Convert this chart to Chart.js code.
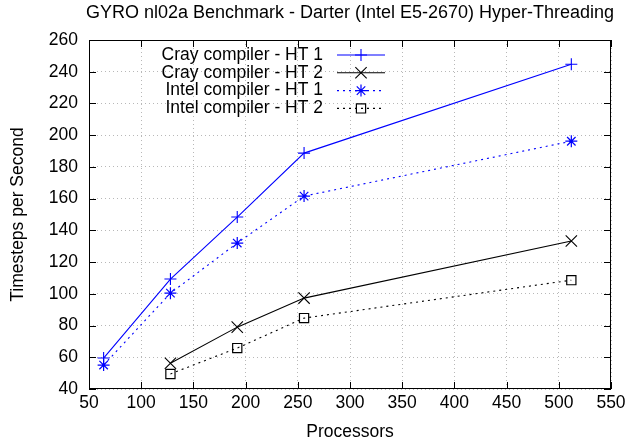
<!doctype html>
<html lang="en">
<head>
<meta charset="utf-8">
<title>GYRO nl02a Benchmark</title>
<script src="https://cdn.jsdelivr.net/npm/chart.js"></script>
<style>
    html, body { margin: 0; padding: 0; background: white; }
    #wrap { width: 630px; height: 446px; }
</style>
</head>
<body>
<div id="wrap"><canvas id="myChart"></canvas></div>
<script>
// data
const titleText = 'GYRO nl02a Benchmark - Darter (Intel E5-2670) Hyper-Threading';
const procsAll = [64, 128, 192, 256, 512];
const procsHT2 = [128, 192, 256, 512];
const crayHT1 = [59.5, 109.3, 148.4, 188.7, 244.7];
const crayHT2 = [56.2, 79, 97.3, 133.3];
const intelHT1 = [55.1, 100.4, 132, 161.6, 196.2];
const intelHT2 = [49.5, 65.8, 84.7, 108.6];
const xTicks = [50, 100, 150, 200, 250, 300, 350, 400, 450, 500, 550];
const yTicks = [40, 60, 80, 100, 120, 140, 160, 180, 200, 220, 240, 260];

const FONT = 'Liberation Sans, Arial, Helvetica, sans-serif';
const FSIZE = 17.5;
const BLUE = '#0000ff';

function pts(xs, ys) {
    return xs.map((x, i) => ({ x: x, y: ys[i] }));
}

const data = {
    datasets: [{
        label: 'Cray compiler - HT 1',
        data: pts(procsAll, crayHT1),
        borderColor: BLUE,
        borderWidth: 1.1,
        pointStyle: 'cross',
        pointRadius: 6,
        pointBorderWidth: 1.1,
        pointBorderColor: BLUE,
        pointBackgroundColor: 'transparent'
    }, {
        label: 'Cray compiler - HT 2',
        data: pts(procsHT2, crayHT2),
        borderColor: 'black',
        borderWidth: 1.1,
        pointStyle: 'crossRot',
        pointRadius: 8,
        pointBorderWidth: 1.1,
        pointBorderColor: 'black',
        pointBackgroundColor: 'transparent'
    }, {
        label: 'Intel compiler - HT 1',
        data: pts(procsAll, intelHT1),
        borderColor: BLUE,
        borderWidth: 1.1,
        borderDash: [2, 4],
        pointStyle: 'star',
        pointRadius: 6,
        pointBorderWidth: 1.2,
        pointBorderColor: BLUE,
        pointBackgroundColor: 'transparent'
    }, {
        label: 'Intel compiler - HT 2',
        data: pts(procsHT2, intelHT2),
        borderColor: 'black',
        borderWidth: 1.1,
        borderDash: [2, 4],
        pointStyle: 'rect',
        pointRadius: 6.5,
        pointBorderWidth: 1.2,
        pointBorderColor: 'black',
        pointBackgroundColor: 'transparent'
    }]
};

// gnuplot look: frame, inward ticks, title, legend in the plot
const gnuplotBits = {
    id: 'gnuplotBits',
    afterDraw: (chart) => {
        const ctx = chart.ctx;
        const a = chart.chartArea;
        const xs = chart.scales.x, ys = chart.scales.y;
        ctx.save();
        ctx.strokeStyle = 'black';
        ctx.lineWidth = 1;
        ctx.setLineDash([]);
        ctx.strokeRect(a.left + 0.5, a.top + 0.5, a.right - a.left - 1, a.bottom - a.top - 1);
        ctx.beginPath();
        xTicks.forEach(v => {
            const px = Math.round(xs.getPixelForValue(v)) + 0.5;
            ctx.moveTo(px, a.bottom); ctx.lineTo(px, a.bottom - 7);
            ctx.moveTo(px, a.top); ctx.lineTo(px, a.top + 7);
        });
        yTicks.forEach(v => {
            const py = Math.round(ys.getPixelForValue(v)) + 0.5;
            ctx.moveTo(a.left, py); ctx.lineTo(a.left + 7, py);
            ctx.moveTo(a.right, py); ctx.lineTo(a.right - 7, py);
        });
        ctx.stroke();

        // title
        ctx.fillStyle = 'black';
        ctx.font = '18px ' + FONT;
        ctx.textAlign = 'center';
        ctx.textBaseline = 'middle';
        ctx.fillText(titleText, (a.left + a.right) / 2, 13);

        // legend
        ctx.font = FSIZE + 'px ' + FONT;
        const textRight = 323, lineL = 337, lineR = 385, row0 = 55, rowH = 17.8;
        chart.data.datasets.forEach((ds, i) => {
            const y = row0 + i * rowH;
            ctx.textAlign = 'right';
            ctx.fillStyle = 'black';
            ctx.fillText(ds.label, textRight, y);
            ctx.strokeStyle = ds.borderColor;
            ctx.lineWidth = ds.borderWidth;
            ctx.setLineDash(ds.borderDash || []);
            ctx.beginPath();
            ctx.moveTo(lineL, y); ctx.lineTo(lineR, y);
            ctx.stroke();
            ctx.setLineDash([]);
            ctx.fillStyle = 'rgba(0,0,0,0)';
            ctx.lineWidth = ds.pointBorderWidth;
            Chart.helpers.drawPoint(ctx, {
                pointStyle: ds.pointStyle,
                radius: ds.pointRadius,
                borderWidth: ds.pointBorderWidth,
                rotation: 0
            }, (lineL + lineR) / 2, y);
        });
        ctx.restore();
    }
};

const tickFont = { family: FONT, size: FSIZE };

const config = {
    type: 'line',
    data: data,
    options: {
        responsive: false,
        animation: false,
        layout: { padding: { top: 40, right: 19, left: 0, bottom: 0 } },
        plugins: {
            legend: { display: false },
            title: { display: false },
            tooltip: { enabled: false }
        },
        scales: {
            x: {
                type: 'linear',
                min: 50, max: 550,
                afterBuildTicks: s => { s.ticks = xTicks.map(v => ({ value: v })); },
                afterFit: s => { s.height = 57; },
                ticks: { color: 'black', font: tickFont, padding: 4, maxRotation: 0 },
                grid: { color: '#b8b8b8', lineWidth: 1, drawTicks: false },
                border: { display: false, dash: [1, 3] },
                title: { display: true, text: 'Processors', color: 'black', font: tickFont, padding: { top: 0, bottom: 3 } }
            },
            y: {
                type: 'linear',
                min: 40, max: 260,
                afterBuildTicks: s => { s.ticks = yTicks.map(v => ({ value: v })); },
                afterFit: s => { s.width = 89; },
                ticks: { color: 'black', font: tickFont, padding: 11 },
                grid: { color: '#b8b8b8', lineWidth: 1, drawTicks: false },
                border: { display: false, dash: [1, 3] },
                title: { display: true, text: 'Timesteps per Second', color: 'black', font: tickFont, padding: { top: 8, bottom: 0 } }
            }
        }
    },
    plugins: [gnuplotBits]
};

const canvas = document.getElementById('myChart');
canvas.width = 630;
canvas.height = 446;
const myChart = new Chart(canvas, config);
</script>
</body>
</html>
